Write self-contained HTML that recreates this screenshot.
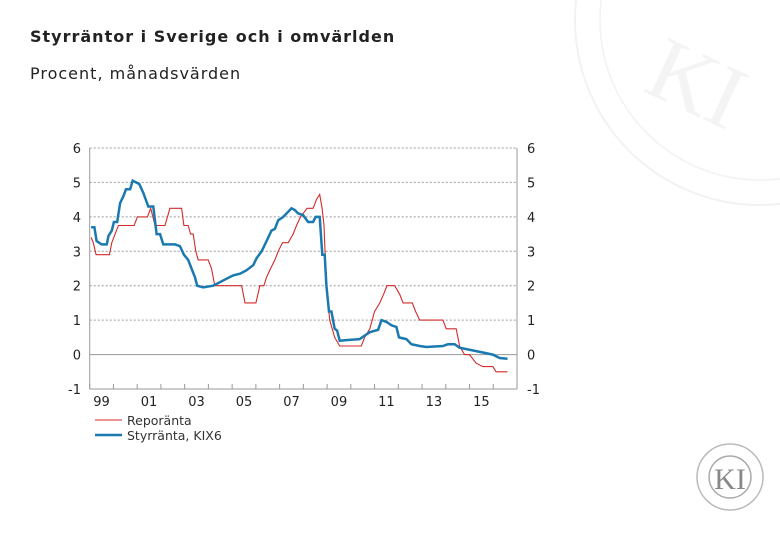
<!DOCTYPE html>
<html><head><meta charset="utf-8"><style>
body{margin:0;background:#fff;}
svg{display:block;font-family:"DejaVu Sans","Liberation Sans",sans-serif;}
</style></head><body>
<svg id="chart" width="780" height="540" viewBox="0 0 780 540">
  <g fill="none" stroke="#f2f2f2">
    <circle cx="760" cy="20" r="185" stroke-width="2"/>
    <circle cx="760" cy="20" r="160" stroke-width="1.5"/>
    <text x="650" y="110" font-size="90" fill="#f4f4f4" stroke="none" font-family="Liberation Serif,serif" transform="rotate(25 690 80)">KI</text>
  </g>
  <g>
    <circle cx="730" cy="477" r="33" fill="none" stroke="#bbb" stroke-width="1.5"/>
    <circle cx="730" cy="477" r="21" fill="none" stroke="#aaa" stroke-width="1.5"/>
    <text x="730" y="489" text-anchor="middle" font-size="30" fill="#888" font-family="Liberation Serif,serif">KI</text>
  </g>
  <text x="30" y="42" font-size="16" font-weight="bold" fill="#222" letter-spacing="1">Styrräntor i Sverige och i omvärlden</text>
  <text x="30" y="79" font-size="16" fill="#222" letter-spacing="1">Procent, månadsvärden</text>
  <g id="grid"></g>
  <g id="axes"></g>
  <g id="series"></g>
  <g id="legend">
    <line x1="95" y1="420" x2="122" y2="420" stroke="#d42a2a" stroke-width="1"/>
    <text x="127" y="425" font-size="12.5" fill="#333">Reporänta</text>
    <line x1="95" y1="435" x2="122" y2="435" stroke="#1a7ab0" stroke-width="2.5"/>
    <text x="127" y="440" font-size="12.5" fill="#333">Styrränta, KIX6</text>
  </g>
</svg>
<script>
const yTicks=[6,5,4,3,2,1,0,-1];
const xLabels=["99","01","03","05","07","09","11","13","15"];
const repoDates=[1999.06,1999.15,1999.27,1999.83,1999.93,2000.07,2000.21,2000.87,2001.01,2001.43,2001.57,2001.75,2002.17,2002.38,2002.87,2002.97,2003.15,2003.25,2003.36,2003.47,2003.57,2003.99,2004.13,2004.27,2005.4,2005.54,2006.0,2006.17,2006.34,2006.45,2006.62,2006.8,2006.94,2007.12,2007.36,2007.57,2007.71,2007.88,2008.16,2008.41,2008.55,2008.69,2008.79,2008.87,2008.97,2009.11,2009.32,2009.53,2010.44,2010.58,2010.8,2011.0,2011.22,2011.38,2011.52,2011.85,2012.06,2012.2,2012.59,2012.73,2012.9,2013.88,2014.02,2014.44,2014.58,2014.79,2015.0,2015.28,2015.56,2015.98,2016.12,2016.6];
const repoValues=[3.4,3.25,2.9,2.9,3.25,3.5,3.75,3.75,4.0,4.0,4.25,3.75,3.75,4.25,4.25,3.75,3.75,3.5,3.5,3.0,2.75,2.75,2.5,2.0,2.0,1.5,1.5,2.0,2.0,2.25,2.5,2.75,3.0,3.25,3.25,3.5,3.75,4.0,4.25,4.25,4.5,4.65,4.25,3.75,2.0,1.0,0.5,0.25,0.25,0.5,0.75,1.25,1.5,1.75,2.0,2.0,1.75,1.5,1.5,1.25,1.0,1.0,0.75,0.75,0.25,0.0,0.0,-0.25,-0.35,-0.35,-0.5,-0.5];
const kixDates=[1999.06,1999.2,1999.29,1999.5,1999.72,1999.79,1999.93,2000.02,2000.16,2000.28,2000.42,2000.53,2000.7,2000.81,2000.95,2001.09,2001.26,2001.47,2001.68,2001.82,2001.96,2002.1,2002.59,2002.8,2002.97,2003.15,2003.29,2003.43,2003.53,2003.78,2004.2,2004.48,2004.76,2005.04,2005.33,2005.61,2005.89,2006.03,2006.24,2006.45,2006.66,2006.8,2006.94,2007.15,2007.36,2007.5,2007.64,2007.78,2007.99,2008.2,2008.41,2008.52,2008.69,2008.8,2008.9,2008.97,2009.08,2009.18,2009.32,2009.42,2009.53,2009.81,2010.37,2010.58,2010.8,2011.15,2011.29,2011.5,2011.71,2011.92,2012.03,2012.34,2012.55,2012.9,2013.18,2013.88,2014.09,2014.37,2014.58,2015.28,2015.98,2016.27,2016.6];
const kixValues=[3.7,3.7,3.3,3.2,3.2,3.45,3.6,3.85,3.85,4.4,4.6,4.8,4.8,5.05,5.0,4.95,4.7,4.3,4.3,3.5,3.5,3.2,3.2,3.15,2.9,2.75,2.5,2.25,2.0,1.95,2.0,2.1,2.2,2.3,2.35,2.45,2.6,2.8,3.0,3.3,3.6,3.65,3.9,4.0,4.15,4.25,4.2,4.1,4.05,3.85,3.85,4.0,4.0,2.9,2.9,2.0,1.25,1.25,0.75,0.7,0.4,0.42,0.45,0.55,0.65,0.72,1.0,0.95,0.85,0.8,0.5,0.45,0.3,0.25,0.22,0.25,0.3,0.3,0.2,0.1,0.0,-0.1,-0.12];
const X0=89.7,X1=517,Y6=148,Ym1=389;
const xs=t=>X0+(t-1999)*(X1-X0)/18;
const ys=v=>Y6+(6-v)*(Ym1-Y6)/7;
const NS="http://www.w3.org/2000/svg";
function mk(tag,attrs,parent){const e=document.createElementNS(NS,tag);for(const k in attrs)e.setAttribute(k,attrs[k]);parent.appendChild(e);return e;}
const grid=document.getElementById('grid'),axes=document.getElementById('axes'),series=document.getElementById('series');
yTicks.forEach(v=>{
  const y=ys(v);
  if(v!==-1){
    const l=mk('line',{x1:X0,x2:X1,y1:y,y2:y,stroke:'#999','stroke-width':1,'stroke-dasharray':v===0?'':'2,2'},grid);
    
    
  }
  const a=mk('text',{x:81,y:y+5,'text-anchor':'end','font-size':13,fill:'#222'},axes);a.textContent=v;
  
  
  const b=mk('text',{x:527,y:y+5,'font-size':13,fill:'#222'},axes);b.textContent=v;
  
  
});
const al=mk('line',{x1:X0,x2:X0,y1:Y6,y2:Ym1,stroke:'#999'},axes);


const ar=mk('line',{x1:X1,x2:X1,y1:Y6,y2:Ym1,stroke:'#999'},axes);


const ab=mk('line',{x1:X0,x2:X1,y1:Ym1,y2:Ym1,stroke:'#999'},axes);


for(let yr=1999;yr<=2017;yr++){
  const t=mk('line',{x1:xs(yr),x2:xs(yr),y1:Ym1,y2:Ym1-5,stroke:'#999'},axes);
  
  
}
xLabels.forEach((s,i)=>{
  const t=mk('text',{x:xs(1999+2*i+0.5),y:406,'text-anchor':'middle','font-size':13,fill:'#222'},axes);t.textContent=s;
  
  
});
function pts(d,v){return d.map((t,i)=>xs(t).toFixed(1)+','+ys(v[i]).toFixed(1)).join(' ');}
const r=mk('polyline',{points:pts(repoDates,repoValues),fill:'none',stroke:'#d42a2a','stroke-width':1.1},series);


const k=mk('polyline',{points:pts(kixDates,kixValues),fill:'none',stroke:'#1a7ab0','stroke-width':2.5},series);


</script>
</body></html>
